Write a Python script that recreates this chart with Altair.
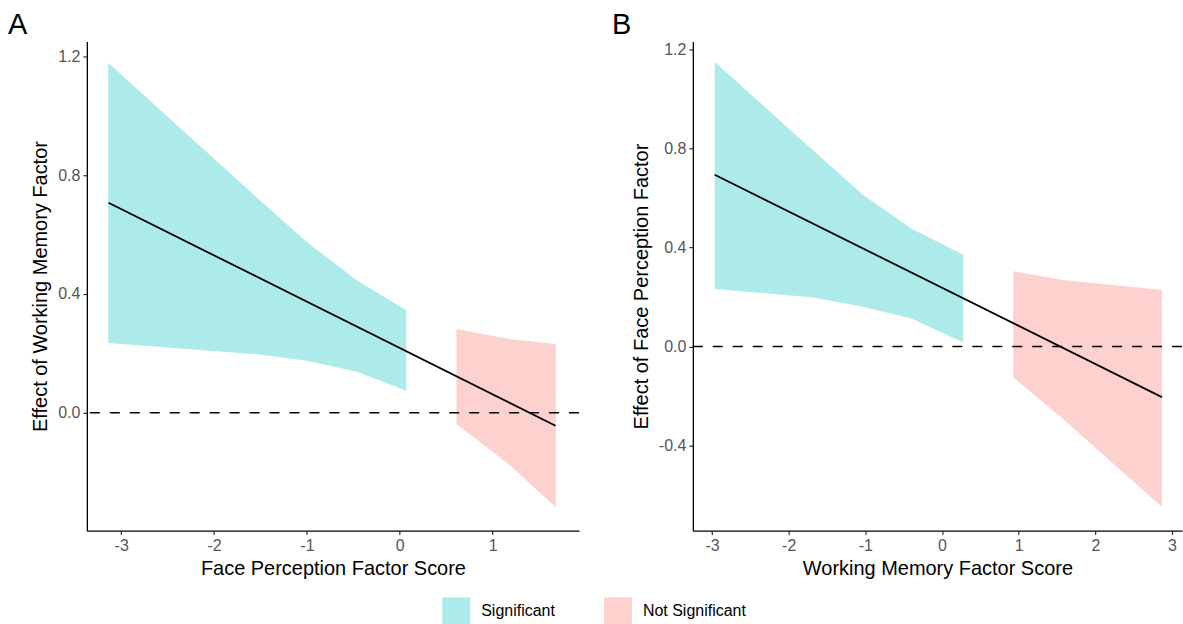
import altair as alt
import pandas as pd

FONT = "Liberation Sans"
CYAN = "#ADEBEA"
RED = "#FDD1CE"
SIG = "Significant"
NSIG = "Not Significant"

# ---- Panel A data (x = Face Perception Factor Score) ----
a_sig_x = [-3.14, -1.54, -1.00, -0.46, 0.07]
a_sig_upper = [1.178, 0.725, 0.574, 0.445, 0.345]
a_sig_lower = [0.235, 0.197, 0.175, 0.138, 0.074]
a_ns_x = [0.61, 1.18, 1.68]
a_ns_upper = [0.282, 0.248, 0.231]
a_ns_lower = [-0.038, -0.175, -0.318]
a_line_x = [-3.137, 1.677]
a_line_y = [0.707, -0.044]

# ---- Panel B data (x = Working Memory Factor Score) ----
b_sig_x = [-2.965, -1.70, -1.03, -0.39, 0.277]
b_sig_upper = [1.149, 0.798, 0.612, 0.475, 0.371]
b_sig_lower = [0.233, 0.199, 0.161, 0.112, 0.017]
b_ns_x = [0.928, 1.58, 2.868]
b_ns_upper = [0.304, 0.269, 0.229]
b_ns_lower = [-0.124, -0.292, -0.648]
b_line_x = [-2.965, 2.868]
b_line_y = [0.694, -0.204]

a_xticks = [-3, -2, -1, 0, 1]
a_yticks = [0.0, 0.4, 0.8, 1.2]
b_xticks = [-3, -2, -1, 0, 1, 2, 3]
b_yticks = [-0.4, 0.0, 0.4, 0.8, 1.2]


def band_df(sx, su, sl, nx, nu, nl):
    rows = []
    for x, u, l in zip(sx, su, sl):
        rows.append({"x": x, "upper": u, "lower": l, "sig": SIG})
    for x, u, l in zip(nx, nu, nl):
        rows.append({"x": x, "upper": u, "lower": l, "sig": NSIG})
    return pd.DataFrame(rows)


def panel(bands, lx, ly, xdom, ydom, xticks, yticks, xtitle, ytitle, letter, letter_dx, width, height):
    xs = alt.Scale(domain=xdom, nice=False, zero=False)
    ys = alt.Scale(domain=ydom, nice=False, zero=False)
    xaxis = alt.Axis(values=xticks, title=xtitle,
                     labelExpr="datum.value < 0 ? '-' + format(abs(datum.value), 'd') : format(datum.value, 'd')")
    yaxis = alt.Axis(values=yticks, title=ytitle,
                     labelExpr="datum.value < 0 ? '-' + format(abs(datum.value), '.1f') : format(datum.value, '.1f')")
    area = alt.Chart(bands).mark_area(opacity=1).encode(
        x=alt.X("x:Q", scale=xs, axis=xaxis),
        y=alt.Y("lower:Q", scale=ys, axis=yaxis),
        y2="upper:Q",
        color=alt.Color("sig:N",
                        scale=alt.Scale(domain=[SIG, NSIG], range=[CYAN, RED]),
                        legend=alt.Legend(title=None)),
    )
    rule = alt.Chart(pd.DataFrame({"z": [0]})).mark_rule(
        color="black", strokeWidth=1.5, strokeDash=[10, 10]
    ).encode(y=alt.Y("z:Q", scale=ys))
    line = alt.Chart(pd.DataFrame({"x": lx, "y": ly})).mark_line(
        color="black", strokeWidth=1.8
    ).encode(x=alt.X("x:Q", scale=xs), y=alt.Y("y:Q", scale=ys))
    return alt.layer(area, rule, line).properties(
        width=width, height=height,
        title=alt.TitleParams(letter, anchor="start", frame="group", dx=letter_dx,
                              fontSize=29, fontWeight="normal", font=FONT,
                              baseline="alphabetic", offset=-22, color="black"),
    )


A = panel(band_df(a_sig_x, a_sig_upper, a_sig_lower, a_ns_x, a_ns_upper, a_ns_lower),
          a_line_x, a_line_y, [-3.37, 1.93], [-0.397, 1.25], a_xticks, a_yticks,
          "Face Perception Factor Score", "Effect of Working Memory Factor", "A", -79, 493, 490)
B = panel(band_df(b_sig_x, b_sig_upper, b_sig_lower, b_ns_x, b_ns_upper, b_ns_lower),
          b_line_x, b_line_y, [-3.25, 3.13], [-0.743, 1.232], b_xticks, b_yticks,
          "Working Memory Factor Score", "Effect of Face Perception Factor", "B", -81, 490, 490)

chart = alt.hconcat(A, B, spacing=32).resolve_scale(
    x="independent", y="independent", color="shared"
).properties(
    padding={"left": 8, "top": 10, "right": 0, "bottom": 0}
).configure_view(stroke=None).configure_axis(
    grid=False, domainColor="black", domainWidth=1.3, tickColor="#333333",
    tickSize=4, tickWidth=1.2, labelColor="#555555", labelFontSize=16, labelFont=FONT,
    titleFont=FONT, titleFontSize=20, titleFontWeight="normal", titleColor="black",
    labelPadding=3,
).configure_axisY(titlePadding=7).configure_axisX(titlePadding=5).configure_legend(
    orient="none", legendX=356, legendY=557, direction="horizontal",
    symbolType="square", symbolSize=784, symbolStrokeWidth=0, symbolOpacity=1,
    labelFont=FONT, labelFontSize=16, labelColor="black", labelOffset=11,
    columnPadding=49, padding=0,
)

chart.save("out.html", embed_options={"renderer": "svg", "actions": False})
